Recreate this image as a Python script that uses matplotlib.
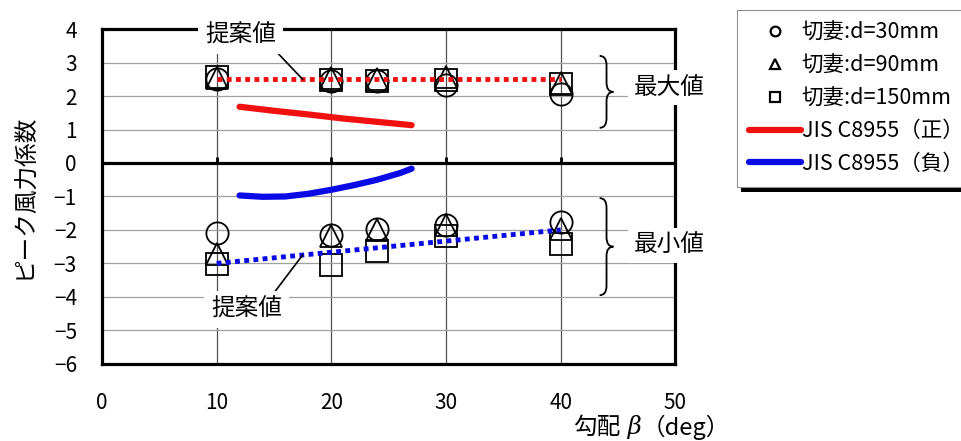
import matplotlib
matplotlib.use("Agg")
import matplotlib.pyplot as plt
from matplotlib.lines import Line2D
from matplotlib.path import Path
from matplotlib.patches import PathPatch, Rectangle

plt.rcParams['font.family'] = ['Noto Sans CJK JP', 'DejaVu Sans']

# roof pitch (deg)
beta = [10, 20, 24, 30, 40]

# peak wind force coefficient, max side
c30_max = [2.50, 2.45, 2.45, 2.32, 2.05]
c90_max = [2.55, 2.55, 2.50, 2.56, 2.38]
c150_max = [2.58, 2.49, 2.46, 2.47, 2.35]

# min side
c30_min = [-2.08, -2.15, -1.96, -1.84, -1.77]
c90_min = [-2.72, -2.18, -2.00, -1.85, -1.96]
c150_min = [-3.02, -3.04, -2.64, -2.17, -2.42]

# proposed values
prop_x = [10, 40]
prop_max = [2.5, 2.5]
prop_min = [-3.0, -2.0]

# JIS C8955
jis_pos_x = [12, 15, 18, 21, 24, 27]
jis_pos = [1.68, 1.56, 1.45, 1.33, 1.23, 1.13]
jis_neg_x = [12, 14, 16, 18, 20, 22, 24, 26, 27]
jis_neg = [-0.97, -1.01, -1.00, -0.92, -0.80, -0.66, -0.50, -0.30, -0.17]

labels = ['切妻:d=30mm', '切妻:d=90mm', '切妻:d=150mm',
          'JIS C8955（正）', 'JIS C8955（負）']

RED = '#f01010'
BLUE = '#0a0ae6'


def brace(ax, x, y_top, y_bot, w, r):
    ym = (y_top + y_bot) / 2
    xm = x + w / 2
    verts = [(x, y_top), (xm, y_top), (xm, y_top - r),
             (xm, ym + r),
             (xm, ym), (x + w, ym),
             (xm, ym), (xm, ym - r),
             (xm, y_bot + r),
             (xm, y_bot), (x, y_bot)]
    codes = [Path.MOVETO, Path.CURVE3, Path.CURVE3,
             Path.LINETO,
             Path.CURVE3, Path.CURVE3,
             Path.CURVE3, Path.CURVE3,
             Path.LINETO,
             Path.CURVE3, Path.CURVE3]
    ax.add_patch(PathPatch(Path(verts, codes), fc='none', ec='black',
                           lw=1.3, zorder=4))


fig = plt.figure(figsize=(9.62, 4.41), dpi=100)
ax = fig.add_axes([0.106, 0.175, 0.596, 0.759])

ax.set_xlim(0, 50)
ax.set_ylim(-6, 4)
ax.set_xticks(range(0, 51, 10))
ax.set_yticks(range(-6, 5))
ax.tick_params(length=0, labelsize=15)
ax.tick_params(axis='x', pad=20)
ax.tick_params(axis='y', pad=18)
ax.grid(axis='y', color='#a0a0a0', lw=0.9)
ax.grid(axis='x', color='#505050', lw=0.9)
ax.set_axisbelow(True)
for s in ax.spines.values():
    s.set_linewidth(2.3)

ax.axhline(0, color='black', lw=2.3, zorder=2.5)
ax.vlines([10, 20, 30, 40], 0, 0.18, color='black', lw=2, zorder=2.5)

mk = dict(ls='none', ms=16, mfc='none', mec='black', mew=1.3, zorder=3)
ax.plot(beta, c30_max, marker='o', **mk)
ax.plot(beta, c90_max, marker='^', **mk)
ax.plot(beta, c150_max, marker='s', **mk)
ax.plot(beta, c30_min, marker='o', **mk)
ax.plot(beta, c90_min, marker='^', **mk)
ax.plot(beta, c150_min, marker='s', **mk)

dots = dict(lw=3.5, ls=(0, (1, 0.9)), dash_capstyle='butt', zorder=4)
ax.plot(prop_x, prop_max, color=RED, **dots)
ax.plot(prop_x, prop_min, color=BLUE, **dots)

ax.plot(jis_pos_x, jis_pos, color=RED, lw=4.5, solid_capstyle='round', zorder=4)
ax.plot(jis_neg_x, jis_neg, color=BLUE, lw=4.5, solid_capstyle='round', zorder=4)

# braces + labels on the right
brace(ax, 43.4, 3.2, 1.05, 1.2, 0.28)
brace(ax, 43.4, -1.05, -3.95, 1.2, 0.28)
box = dict(boxstyle='square,pad=0.25', fc='white', ec='none')
ax.text(46.4, 2.25, '最大値', fontsize=17, ha='left', va='center',
        bbox=box, zorder=5)
ax.text(46.4, -2.47, '最小値', fontsize=17, ha='left', va='center',
        bbox=box, zorder=5)

# proposal callouts
ax.annotate('提案値', xy=(17.5, 2.5), xytext=(12.1, 3.82), fontsize=17,
            ha='center', va='center', annotation_clip=False, zorder=5,
            bbox=dict(boxstyle='square,pad=0.3', fc='white', ec='none'),
            arrowprops=dict(arrowstyle='-', lw=1.2, color='black',
                            shrinkA=0, shrinkB=0, relpos=(0.92, 0.05)))
ax.annotate('提案値', xy=(17.5, -2.75), xytext=(12.6, -4.38), fontsize=17,
            ha='center', va='center', annotation_clip=False, zorder=5,
            bbox=dict(boxstyle='square,pad=0.3', fc='white', ec='none'),
            arrowprops=dict(arrowstyle='-', lw=1.2, color='black',
                            shrinkA=0, shrinkB=0, relpos=(0.82, 0.95)))

# axis titles
fig.text(25 / 962, 0.5545, 'ピーク風力係数', rotation=90, fontsize=17,
         ha='center', va='center')
t1 = fig.text(573 / 962, 1 - 427 / 441, '勾配', fontsize=17, ha='left', va='center')
t2 = ax.annotate(' β', xy=(1, 0.5), xycoords=t1, fontsize=17.5, ha='left', va='center',
                 family='DejaVu Serif', style='italic', annotation_clip=False)
ax.annotate('（deg）', xy=(1, 0.5), xycoords=t2, fontsize=17, ha='left', va='center',
            annotation_clip=False)

# legend
lm = dict(ls='none', ms=7, mfc='none', mec='black', mew=1.6)
handles = [Line2D([], [], marker='o', **lm),
           Line2D([], [], marker='^', **lm),
           Line2D([], [], marker='s', **lm),
           Line2D([], [], color=RED, lw=4.5, solid_capstyle='round'),
           Line2D([], [], color=BLUE, lw=4.5, solid_capstyle='round')]
leg = fig.legend(handles, labels, loc='upper left',
                 bbox_to_anchor=(737 / 962, 1 - 10 / 441), borderaxespad=0,
                 fontsize=15.5, handlelength=2.4, handletextpad=0.05,
                 labelspacing=0.5, borderpad=0.55, fancybox=False,
                 framealpha=1, edgecolor='#909090')
leg.get_frame().set_linewidth(0.8)
leg.set_zorder(6)

# hard black drop shadow under the legend box
fig.canvas.draw()
bb = leg.get_window_extent().transformed(fig.transFigure.inverted())
dx, dy = 4 / 962, 5 / 441
fig.add_artist(Rectangle((bb.x0 + dx, bb.y0 - dy), bb.width, bb.height,
                         transform=fig.transFigure, fc='black', ec='none',
                         zorder=5))

fig.savefig('out.png', dpi=100)
